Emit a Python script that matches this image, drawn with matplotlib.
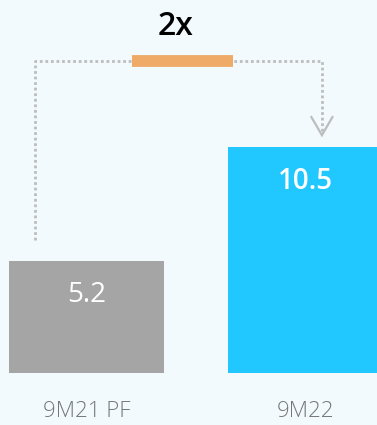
import matplotlib.pyplot as plt

plt.rcParams["font.family"] = ["Open Sans", "DejaVu Sans"]

# data
periods = ["9M21 PF", "9M22"]
values = [5.2, 10.5]
bar_colors = ["#A5A5A5", "#21C7FF"]
growth_label = "2x"

bg = "#F2FAFD"
dot_grey = "#BDBDBD"

fig = plt.figure(figsize=(3.77, 4.25), dpi=100, facecolor=bg)
ax = fig.add_axes([0, 52 / 425, 1, 373 / 425])
ax.set_facecolor(bg)
ax.set_xlim(-0.395, 1.3265)
ax.set_ylim(0, 373 * 10.5 / 226)
ax.axis("off")

x = list(range(len(periods)))
bars = ax.bar(x, values, width=0.708, color=bar_colors, zorder=2)

# value labels inside the bars
for xi, v, w in zip(x, values, ["normal", "semibold"]):
    ax.annotate(f"{v:.1f}", (xi, v), xytext=(0, -24.5), textcoords="offset points",
                ha="center", va="center", color="white", fontsize=20, fontweight=w)

# category labels below the axis
for xi, lab in zip(x, periods):
    ax.annotate(lab, (xi, 0), xytext=(0, -27.5), textcoords="offset points",
                ha="center", va="center", color="#767676", fontsize=16,
                fontweight="light")

# dotted connector from first bar to second bar
x_left, x_right = -0.235, 1.075
y_start = values[0] + 0.98
y_top = 14.5
y_tip = values[1] + 0.55
ax.plot([x_left, x_left, x_right, x_right], [y_start, y_top, y_top, y_tip + 0.1],
        color=dot_grey, lw=2, ls=(0, (1, 1)), solid_capstyle="butt", zorder=1)
ax.plot([x_right - 0.048, x_right, x_right + 0.048], [y_tip + 0.84, y_tip, y_tip + 0.84],
        color=dot_grey, lw=1.6, solid_joinstyle="miter", zorder=1)

# growth marker
ax.plot([0.206, 0.667], [y_top, y_top], color="#EEAA66", lw=8.5,
        solid_capstyle="butt", zorder=3)
ax.text(0.405, y_top + 1.6, growth_label, ha="center", va="center",
        fontsize=23, fontweight="semibold", color="black")

fig.savefig("out.png", dpi=100, facecolor=bg)
